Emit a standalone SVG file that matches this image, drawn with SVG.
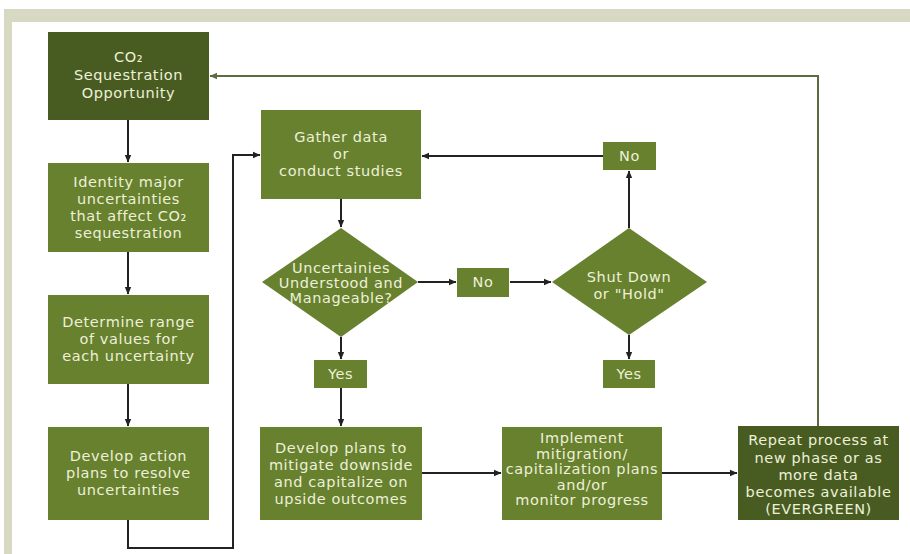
<svg xmlns="http://www.w3.org/2000/svg" width="910" height="554" viewBox="0 0 910 554">
<style>
.dk{fill:#485c22}
.md{fill:#67812f}
.t{font-family:"DejaVu Sans","Liberation Sans",sans-serif;font-size:14.5px;letter-spacing:0.6px;fill:#eef0d8;text-anchor:middle}
.c{fill:none;stroke:#222;stroke-width:2}
.g{fill:none;stroke:#5d6b40;stroke-width:2}
</style>
<defs>
<marker id="ah" markerWidth="8" markerHeight="8" refX="7" refY="4" orient="auto" markerUnits="userSpaceOnUse">
<path d="M0,0.8 L7.5,4 L0,7.2 Z" fill="#222"/>
</marker>
<marker id="ahg" markerWidth="8" markerHeight="8" refX="7" refY="4" orient="auto" markerUnits="userSpaceOnUse">
<path d="M0,0.8 L7.5,4 L0,7.2 Z" fill="#5d6b40"/>
</marker>
</defs>
<rect x="0" y="0" width="910" height="554" fill="#ffffff"/>
<rect x="4" y="9" width="906" height="545" fill="#d8d9c3"/>
<rect x="12" y="22" width="898" height="532" fill="#ffffff"/>

<g id="connectors">
<line class="c" x1="128" y1="120" x2="128" y2="162" marker-end="url(#ah)"/>
<line class="c" x1="128" y1="252" x2="128" y2="294" marker-end="url(#ah)"/>
<line class="c" x1="128" y1="384" x2="128" y2="426" marker-end="url(#ah)"/>
<path class="c" d="M128 520 V548 H233 V155 H260" marker-end="url(#ah)"/>
<line class="c" x1="341" y1="199" x2="341" y2="227" marker-end="url(#ah)"/>
<line class="c" x1="418" y1="282" x2="456" y2="282" marker-end="url(#ah)"/>
<line class="c" x1="510" y1="282" x2="551" y2="282" marker-end="url(#ah)"/>
<line class="c" x1="629" y1="228" x2="629" y2="171" marker-end="url(#ah)"/>
<line class="c" x1="603" y1="156" x2="422" y2="156" marker-end="url(#ah)"/>
<line class="c" x1="629" y1="335" x2="629" y2="359" marker-end="url(#ah)"/>
<line class="c" x1="341" y1="337" x2="341" y2="359" marker-end="url(#ah)"/>
<line class="c" x1="341" y1="388" x2="341" y2="426" marker-end="url(#ah)"/>
<line class="c" x1="422" y1="473" x2="501" y2="473" marker-end="url(#ah)"/>
<line class="c" x1="662" y1="473" x2="737" y2="473" marker-end="url(#ah)"/>
<path class="g" d="M818 426 V76 H210" marker-end="url(#ahg)"/>
</g>

<g id="co2">
<rect class="dk" x="48" y="32" width="161" height="88"/>
<text class="t"><tspan x="128.5" y="62">CO₂</tspan><tspan x="128.5" y="80">Sequestration</tspan><tspan x="128.5" y="98">Opportunity</tspan></text>
</g>
<g id="identify">
<rect class="md" x="48" y="163" width="161" height="89"/>
<text class="t"><tspan x="128.5" y="187">Identity major</tspan><tspan x="128.5" y="204">uncertainties</tspan><tspan x="128.5" y="221">that affect CO₂</tspan><tspan x="128.5" y="238">sequestration</tspan></text>
</g>
<g id="determine">
<rect class="md" x="48" y="295" width="161" height="89"/>
<text class="t"><tspan x="128.5" y="327">Determine range</tspan><tspan x="128.5" y="344">of values for</tspan><tspan x="128.5" y="361">each uncertainty</tspan></text>
</g>
<g id="action">
<rect class="md" x="48" y="427" width="161" height="93"/>
<text class="t"><tspan x="128.5" y="461">Develop action</tspan><tspan x="128.5" y="478">plans to resolve</tspan><tspan x="128.5" y="495">uncertainties</tspan></text>
</g>
<g id="gather">
<rect class="md" x="261" y="110" width="160" height="89"/>
<text class="t"><tspan x="341" y="142">Gather data</tspan><tspan x="341" y="159">or</tspan><tspan x="341" y="176">conduct studies</tspan></text>
</g>
<g id="decision1">
<polygon class="md" points="341,228 418,282 341,337 262,282"/>
<text class="t"><tspan x="341" y="273">Uncertainies</tspan><tspan x="341" y="288">Understood and</tspan><tspan x="341" y="303">Manageable?</tspan></text>
</g>
<g id="no1">
<rect class="md" x="457" y="268" width="52" height="29"/>
<text class="t" x="483" y="287">No</text>
</g>
<g id="decision2">
<polygon class="md" points="629,228 707,282 629,335 552,282"/>
<text class="t"><tspan x="629" y="282">Shut Down</tspan><tspan x="629" y="299">or "Hold"</tspan></text>
</g>
<g id="no2">
<rect class="md" x="603" y="142" width="53" height="28"/>
<text class="t" x="629.5" y="161">No</text>
</g>
<g id="yes2">
<rect class="md" x="603" y="360" width="52" height="28"/>
<text class="t" x="629" y="379">Yes</text>
</g>
<g id="yes1">
<rect class="md" x="314" y="360" width="53" height="28"/>
<text class="t" x="340.5" y="379">Yes</text>
</g>
<g id="plans">
<rect class="md" x="260" y="427" width="162" height="93"/>
<text class="t"><tspan x="341" y="453">Develop plans to</tspan><tspan x="341" y="470">mitigate downside</tspan><tspan x="341" y="487">and capitalize on</tspan><tspan x="341" y="504">upside outcomes</tspan></text>
</g>
<g id="implement">
<rect class="md" x="502" y="427" width="160" height="93"/>
<text class="t"><tspan x="582" y="443">Implement</tspan><tspan x="582" y="459">mitigration/</tspan><tspan x="582" y="474">capitalization plans</tspan><tspan x="582" y="490">and/or</tspan><tspan x="582" y="505">monitor progress</tspan></text>
</g>
<g id="evergreen">
<rect class="dk" x="738" y="426" width="161" height="94"/>
<text class="t"><tspan x="818.5" y="445">Repeat process at</tspan><tspan x="818.5" y="463">new phase or as</tspan><tspan x="818.5" y="480">more data</tspan><tspan x="818.5" y="497">becomes available</tspan><tspan x="818.5" y="514">(EVERGREEN)</tspan></text>
</g>
</svg>
